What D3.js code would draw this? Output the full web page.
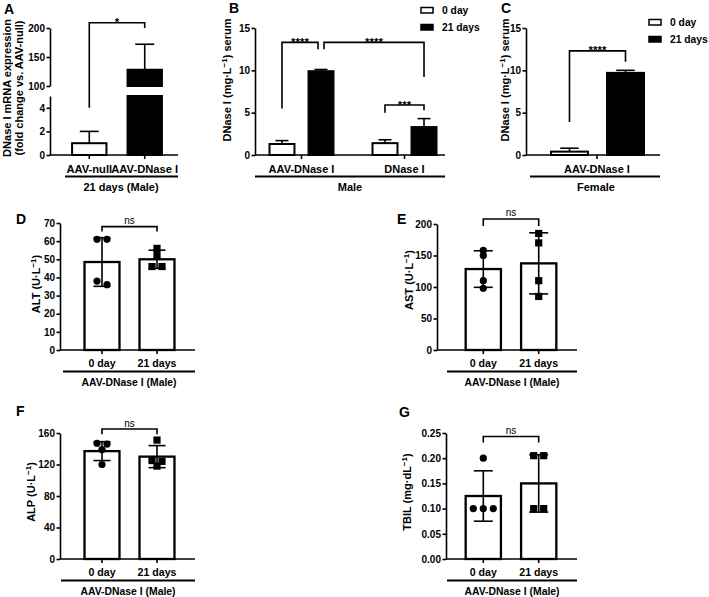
<!DOCTYPE html>
<html><head><meta charset="utf-8">
<script src="https://cdn.jsdelivr.net/npm/d3@7"></script>
<style>
body{margin:0;background:#fff;}
svg{display:block;}
</style></head><body>
<svg id="c" width="709" height="597"></svg>
<script>
// ---------------- DATA ----------------
// Panel A: DNase I mRNA expression (fold change vs. AAV-null), 21 days (Male)
const aCategories = ["AAV-null", "AAV-DNase I"];
const aMeans = [1, 128];
const aUpper = [2, 172];
const aTicksLow = [0, 2, 4];
const aTicksHigh = [100, 150, 200];

// Panel B: DNase I serum (mg·L-1), Male
const series = ["0 day", "21 days"];
const bGroups = ["AAV-DNase I", "DNase I"];
const bDay0 = [1.3, 1.4];
const bDay0Upper = [1.7, 1.8];
const bDay21 = [9.9, 3.3];
const bDay21Upper = [10.1, 4.3];
const serumTicks = [0, 5, 10, 15];

// Panel C: DNase I serum (mg·L-1), Female
const cGroups = ["AAV-DNase I"];
const cDay0 = [0.4];
const cDay0Upper = [0.8];
const cDay21 = [9.7];
const cDay21Upper = [10.0];

// Panels D-G: liver function, AAV-DNase I (Male)
const days = ["0 day", "21 days"];
const altMeans = [48.5, 50];
const altSD = [13.4, 5];
const altDay0 = [61, 61, 36, 38];
const altDay21 = [56, 52, 46, 46];
const altTicks = [0, 10, 20, 30, 40, 50, 60, 70];

const astMeans = [128.5, 137.5];
const astSD = [29, 48.5];
const astDay0 = [158, 150, 110, 98];
const astDay21 = [185, 170, 110, 85];
const astTicks = [0, 50, 100, 150, 200];

const alpMeans = [137, 130];
const alpSD = [12, 14];
const alpDay0 = [146, 147, 139, 120];
const alpDay21 = [151, 124, 125, 118];
const alpTicks = [0, 40, 80, 120, 160];

const tbilMeans = [0.125, 0.15];
const tbilSD = [0.05, 0.057];
const tbilDay0 = [0.2, 0.1, 0.1, 0.1];
const tbilDay21 = [0.205, 0.205, 0.1, 0.1];
const tbilTicks = [0, 0.05, 0.10, 0.15, 0.20, 0.25];

// ---------------- DRAWING ----------------
const F = '"Liberation Sans", Arial, Helvetica, sans-serif';
const svg = d3.select("#c");
const LW = 1.6;

function text(x, y, s, size = 11, weight = "bold", anchor = "middle") {
  return svg.append("text").attr("x", x).attr("y", y).attr("font-size", size)
    .attr("font-weight", weight).attr("text-anchor", anchor).attr("font-family", F)
    .attr("fill", "#000").text(s);
}
function line(x1, y1, x2, y2, w = LW) {
  svg.append("line").attr("x1", x1).attr("y1", y1).attr("x2", x2).attr("y2", y2)
    .attr("stroke", "#000").attr("stroke-width", w);
}
function rect(x, y, w, h, fill, sw = 2) {
  svg.append("rect").attr("x", x).attr("y", y).attr("width", w).attr("height", h)
    .attr("fill", fill).attr("stroke", "#000").attr("stroke-width", sw);
}
// rotated y label, parts alternate normal / superscript
function ylab(x, y, parts, size = 11) {
  const t = svg.append("text").attr("transform", `translate(${x},${y}) rotate(-90)`)
    .attr("text-anchor", "middle").attr("font-size", size).attr("font-weight", "bold")
    .attr("font-family", F).attr("fill", "#000");
  let shift = 0;
  parts.forEach((p, i) => {
    const sp = t.append("tspan").text(p);
    if (i % 2 === 1) { sp.attr("dy", -4).attr("font-size", 8); shift = 4; }
    else if (shift) { sp.attr("dy", shift); shift = 0; }
  });
}
function yAxis(x, scale, ticks, fmt) {
  const g = svg.append("g").attr("transform", `translate(${x},0)`)
    .call(d3.axisLeft(scale).tickValues(ticks).tickSize(3.5).tickSizeOuter(0).tickPadding(1.5)
      .tickFormat(fmt || d3.format("d")));
  g.attr("font-family", F).attr("font-size", 10).attr("font-weight", "bold");
  g.select(".domain").attr("stroke-width", LW);
  g.selectAll(".tick line").attr("stroke-width", LW);
  g.selectAll(".tick text").attr("fill", "#000");
  return g;
}
function errBar(cx, y1, y2, capW, bothCaps) {
  line(cx, y1, cx, y2);
  line(cx - capW / 2, y2, cx + capW / 2, y2);
  if (bothCaps) line(cx - capW / 2, y1, cx + capW / 2, y1);
}
function bracket(x1, x2, yTop, yL, yR, lab, isNs) {
  svg.append("path").attr("d", `M${x1},${yL}V${yTop}H${x2}V${yR}`)
    .attr("fill", "none").attr("stroke", "#000").attr("stroke-width", LW);
  if (isNs) text((x1 + x2) / 2, yTop - 2.5, lab, 10, "normal");
  else text((x1 + x2) / 2, yTop + 3.5, lab, 11.5, "bold");
}
function letter(x, y, s) { text(x, y, s, 14, "bold", "start"); }
function legend(x, y) {
  series.forEach((s, i) => {
    rect(x, y + i * 17 - 6.5, 12, 5.5, i ? "#000" : "#fff", 1.5);
    text(x + 21, y + i * 17, s, 10.3, "bold", "start");
  });
}

// ---------- Panel A ----------
letter(4, 14, "A");
const aX = d3.scaleBand().domain(aCategories).range([61, 173]).paddingInner(0.38).paddingOuter(0.2);
const aLow = d3.scaleLinear().domain([0, 5]).range([155, 96]);
const aHigh = d3.scaleLinear().domain([100, 200]).range([86, 28]);
const aY = v => v <= 5 ? aLow(v) : aHigh(v);
aCategories.forEach((c, i) => {
  const x0 = aX(c), bw = aX.bandwidth(), cx = x0 + bw / 2, m = aMeans[i];
  const fill = i ? "#000" : "#fff";
  errBar(cx, aY(m), aY(aUpper[i]), bw * 0.55, false);
  if (m <= 5) rect(x0, aLow(m), bw, aLow(0) - aLow(m), fill);
  else {
    rect(x0, aLow(5), bw, aLow(0) - aLow(5), fill);
    rect(x0, aHigh(m), bw, aHigh(100) - aHigh(m), fill);
  }
});
yAxis(50, aLow, aTicksLow);
yAxis(50, aHigh, aTicksHigh);
line(50, 155, 178, 155);
aCategories.forEach(c => {
  const cx = aX(c) + aX.bandwidth() / 2;
  line(cx, 155, cx, 159);
  text(cx, 173, c, 11.2);
});
line(65, 176.5, 178, 176.5, 1.8);
text(121, 191, "21 days (Male)");
ylab(11, 88, ["DNase I mRNA expression"]);
ylab(23, 88, ["(fold change vs. AAV-null)"]);
{
  const x1 = aX(aCategories[0]) + aX.bandwidth() / 2, x2 = aX(aCategories[1]) + aX.bandwidth() / 2;
  bracket(x1, x2, aHigh(209), aLow(4), aHigh(200), "*", false);
}

// ---------- Panel B & C shared ----------
const serumY = d3.scaleLinear().domain([0, 15]).range([155, 28]);

// ---------- Panel B ----------
letter(229, 13, "B");
const bG = d3.scalePoint().domain(bGroups).range([250, 456]).padding(0.5);
const bIn = d3.scaleBand().domain(series).range([-32, 32]).paddingInner(0.36);
const bVals = [bDay0, bDay21], bUps = [bDay0Upper, bDay21Upper];
const bCx = (g, s) => bG(bGroups[g]) + bIn(series[s]) + bIn.bandwidth() / 2;
bGroups.forEach((g, gi) => {
  series.forEach((s, si) => {
    const x0 = bG(g) + bIn(s), bw = bIn.bandwidth(), v = bVals[si][gi];
    errBar(x0 + bw / 2, serumY(v), serumY(bUps[si][gi]), bw * 0.52, false);
    rect(x0, serumY(v), bw, serumY(0) - serumY(v), si ? "#000" : "#fff");
  });
});
yAxis(255, serumY, serumTicks);
line(255, 155, 445, 155);
bGroups.forEach(g => { line(bG(g), 155, bG(g), 159); text(bG(g), 173, g); });
line(255, 176.5, 445, 176.5, 1.8);
text(350, 191, "Male");
ylab(231, 80, ["DNase I (mg·L", "−1", ") serum"]);
bracket(bCx(0, 0), bCx(0, 1) - 3, serumY(13.3), serumY(5.5), serumY(12.5), "****");
bracket(bCx(0, 1) + 3, bCx(1, 1), serumY(13.3), serumY(12.5), serumY(9.2), "****");
bracket(bCx(1, 0), bCx(1, 1), serumY(5.9), serumY(5.0), serumY(5.3), "***");
legend(421, 14);

// ---------- Panel C ----------
letter(501, 13, "C");
const cG = d3.scalePoint().domain(cGroups).range([540, 654]).padding(0.5);
const cIn = d3.scaleBand().domain(series).range([-46, 47]).paddingInner(0.34);
const cVals = [cDay0, cDay21], cUps = [cDay0Upper, cDay21Upper];
const cCx = (g, s) => cG(cGroups[g]) + cIn(series[s]) + cIn.bandwidth() / 2;
cGroups.forEach((g, gi) => {
  series.forEach((s, si) => {
    const x0 = cG(g) + cIn(s), bw = cIn.bandwidth(), v = cVals[si][gi];
    errBar(x0 + bw / 2, serumY(v), serumY(cUps[si][gi]), bw * 0.5, false);
    rect(x0, serumY(v), bw, serumY(0) - serumY(v), si ? "#000" : "#fff");
  });
});
yAxis(526, serumY, serumTicks);
line(526, 155, 660, 155);
cGroups.forEach(g => { line(cG(g), 155, cG(g), 159); text(cG(g), 173, g); });
line(530, 176.5, 660, 176.5, 1.8);
text(596, 191, "Female");
ylab(509, 80, ["DNase I (mg·L", "−1", ") serum"]);
bracket(cCx(0, 0), cCx(0, 1), serumY(12.3), serumY(3.9), serumY(11.0), "****");
legend(649, 26);

// ---------- Panels D-G ----------
function swarm(vals, y, thr = 4.5, sp = 10) {
  const idx = vals.map((v, i) => i).sort((a, b) => vals[b] - vals[a]);
  const off = new Array(vals.length).fill(0);
  let cl = [];
  const flush = () => { cl.forEach((k, j) => off[k] = (j - (cl.length - 1) / 2) * sp); cl = []; };
  idx.forEach(k => {
    if (cl.length && Math.abs(y(vals[k]) - y(vals[cl[cl.length - 1]])) > thr) flush();
    cl.push(k);
  });
  flush();
  return off;
}
function dotPanel(p) {
  const x = d3.scaleBand().domain(days).range(p.xr).paddingInner(0.364).paddingOuter(0.373);
  const y = d3.scaleLinear().domain(p.dom).range(p.yr);
  const bw = x.bandwidth();
  const y0 = p.yr[0];
  days.forEach((d, i) => {
    const x0 = x(d), cx = x0 + bw / 2, m = p.means[i], sd = p.sd[i];
    rect(x0, y(m), bw, y(0) - y(m), "#fff", 2.3);
    errBar(cx, y(m - sd), y(m + sd), p.cap, true);
    const pts = p.pts[i];
    const off = swarm(pts, y);
    pts.forEach((v, k) => {
      if (i === 0) svg.append("circle").attr("cx", cx + off[k]).attr("cy", y(v)).attr("r", 3.6).attr("fill", "#000");
      else svg.append("rect").attr("x", cx + off[k] - 3.6).attr("y", y(v) - 3.6).attr("width", 7.2).attr("height", 7.2).attr("fill", "#000");
    });
  });
  yAxis(p.ax, y, p.ticks, p.fmt);
  line(p.ax, y0, p.xr[1], y0);
  days.forEach(d => {
    const cx = x(d) + bw / 2;
    line(cx, y0, cx, y0 + 4);
    text(cx, y0 + 17, d, 10.6);
  });
  line(p.gl, y0 + 21.5, p.xr[1], y0 + 21.5, 1.8);
  text((p.gl + p.xr[1]) / 2, y0 + 35.5, "AAV-DNase I (Male)", 10.4);
  ylab(p.lx, p.ly, p.ylab);
  const c1 = x(days[0]) + bw / 2, c2 = x(days[1]) + bw / 2;
  bracket(c1, c2, y(p.sig[0]), y(p.sig[1]), y(p.sig[1]), "ns", true);
  letter(p.letter[1], p.letter[2], p.letter[0]);
}

dotPanel({ xr: [64, 195], ax: 60, gl: 63, dom: [0, 70], yr: [350, 223], ticks: altTicks,
  means: altMeans, sd: altSD, pts: [altDay0, altDay21], cap: 17, sig: [68, 65.3],
  ylab: ["ALT (U·L", "−1", ")"], lx: 40, ly: 284, letter: ["D", 16, 224] });
dotPanel({ xr: [445, 577], ax: 437, gl: 447, dom: [0, 200], yr: [350, 224], ticks: astTicks,
  means: astMeans, sd: astSD, pts: [astDay0, astDay21], cap: 19, sig: [208, 197],
  ylab: ["AST (U·L", "−1", ")"], lx: 413, ly: 280, letter: ["E", 397, 224] });
dotPanel({ xr: [64, 195], ax: 60, gl: 61, dom: [0, 160], yr: [559, 433], ticks: alpTicks,
  means: alpMeans, sd: alpSD, pts: [alpDay0, alpDay21], cap: 17, sig: [165, 158.5],
  ylab: ["ALP (U·L", "−1", ")"], lx: 35, ly: 492, letter: ["F", 16, 416] });
dotPanel({ xr: [445, 577], ax: 446, gl: 447, dom: [0, 0.25], yr: [559, 433], ticks: tbilTicks,
  fmt: d3.format(".2f"),
  means: tbilMeans, sd: tbilSD, pts: [tbilDay0, tbilDay21], cap: 19, sig: [0.243, 0.231],
  ylab: ["TBIL (mg·dL", "−1", ")"], lx: 411, ly: 492, letter: ["G", 399, 417] });
</script></body></html>
